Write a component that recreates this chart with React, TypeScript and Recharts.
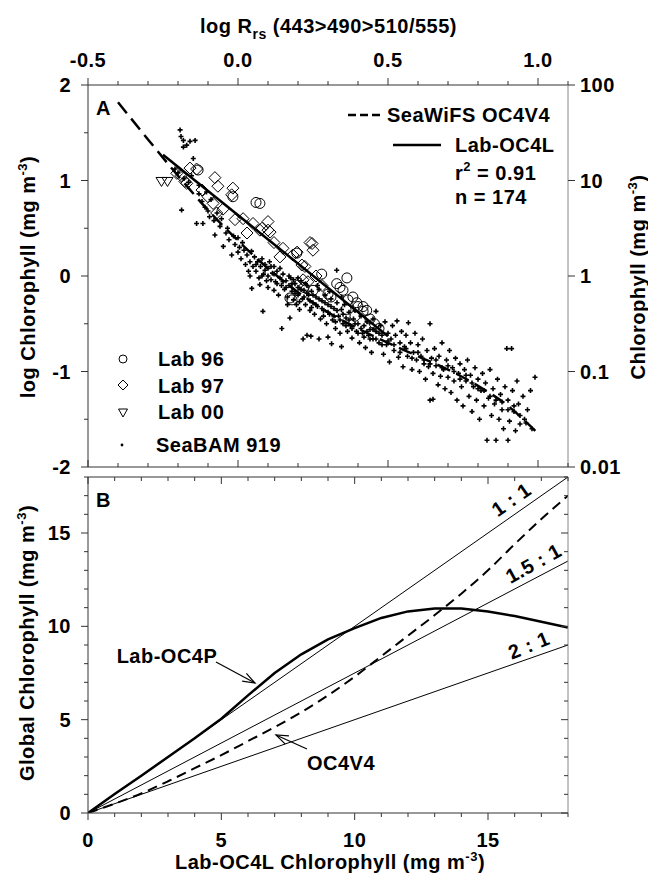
import React from "react";
import { ComposedChart, Scatter, Line, XAxis, YAxis } from "recharts";

// ---- panel A data: [log Rrs, log Chl] ----
const seabamPts = [
  [-0.193, 1.53], [-0.19, 1.46], [-0.182, 1.42], [-0.171, 1.37], [-0.16, 1.41], [-0.143, 1.42], [-0.182, 1.35],
  [-0.149, 1.23], [-0.188, 0.69], [-0.2, 1.08], [-0.21, 1.12], [-0.18, 1.02], [-0.165, 0.98], [-0.155, 1.05],
  [-0.138, 0.55], [-0.117, 0.55], [-0.13, 0.86], [-0.12, 0.78], [-0.11, 0.72], [-0.1, 0.68], [-0.095, 0.62],
  [-0.09, 0.8], [-0.08, 0.58], [-0.077, 0.43], [-0.07, 0.66], [-0.06, 0.52], [-0.055, 0.6], [-0.13, 0.95], [-0.105, 0.88],
  [-0.049, 0.31], [-0.04, 0.45], [-0.035, 0.5], [-0.03, 0.38], [-0.021, 0.22], [-0.015, 0.42], [-0.01, 0.33], [0.0, 0.25],
  [0.0, 0.4], [0.005, 0.3], [0.01, 0.18], [0.015, 0.35], [0.02, 0.27], [0.025, 0.12], [0.03, 0.22], [0.035, 0.05],
  [0.04, 0.15], [0.04, 0.0], [0.045, 0.26], [0.046, -0.13], [0.05, 0.1],
  [0.055, 0.2], [0.06, 0.05], [0.065, 0.15], [0.07, -0.02], [0.073, -0.09], [0.075, 0.1], [0.08, 0.18], [0.083, -0.37],
  [0.085, 0.02], [0.09, 0.12], [0.095, -0.05], [0.1, 0.08], [0.1, -0.12], [0.105, 0.15], [0.11, -0.04], [0.115, 0.03],
  [0.12, 0.1], [0.12, -0.15], [0.125, -0.06], [0.13, 0.05], [0.135, -0.2], [0.14, -0.02], [0.145, -0.1], [0.146, -0.55], [0.15, 0.02],
  [0.155, -0.14], [0.16, -0.05], [0.165, -0.22], [0.17, -0.1], [0.173, -0.44], [0.175, -0.02], [0.18, -0.16], [0.185, -0.25],
  [0.19, -0.08], [0.195, -0.3], [0.2, -0.12], [0.2, -0.2], [0.205, -0.35], [0.21, -0.05], [0.215, -0.24], [0.217, -0.66],
  [0.22, -0.15], [0.225, -0.3], [0.23, -0.62], [0.23, -0.1], [0.235, -0.2], [0.24, -0.36], [0.243, -0.63], [0.245, -0.16], [0.25, -0.28],
  [0.255, -0.4], [0.26, -0.22], [0.265, -0.32], [0.27, -0.66], [0.27, -0.14], [0.275, -0.45], [0.28, -0.26], [0.285, -0.36],
  [0.29, -0.2], [0.295, -0.5], [0.3, -0.3], [0.3, -0.64], [0.305, -0.4], [0.31, -0.24], [0.312, -0.71], [0.315, -0.46],
  [0.32, -0.34], [0.325, -0.55], [0.33, -0.28], [0.329, 0.06], [0.335, -0.42], [0.34, -0.6], [0.345, -0.74], [0.345, -0.35], [0.35, -0.5],
  [0.355, -0.3], [0.36, -0.44], [0.365, -0.58], [0.37, -0.38], [0.375, -0.52], [0.38, -0.65], [0.385, -0.45], [0.39, -0.36],
  [0.395, -0.58], [0.4, -0.5], [0.405, -0.7], [0.41, -0.42], [0.415, -0.6], [0.42, -0.52], [0.425, -0.75], [0.43, -0.48],
  [0.435, -0.62], [0.44, -0.56], [0.445, -0.8], [0.45, -0.45], [0.45, -0.66],
  [0.46, -0.37], [0.46, -0.58], [0.47, -0.7], [0.475, -0.52], [0.48, -0.62], [0.485, -0.82], [0.49, -0.48], [0.495, -0.72],
  [0.5, -0.6], [0.505, -0.9], [0.51, -0.66], [0.515, -0.52], [0.52, -0.78], [0.525, -0.62], [0.53, -0.47], [0.535, -0.85],
  [0.54, -0.7], [0.545, -0.58], [0.55, -0.95],
  [0.555, -0.74], [0.56, -0.62], [0.565, -0.84], [0.568, -0.49], [0.575, -0.7], [0.58, -0.98], [0.585, -0.8], [0.59, -0.6],
  [0.595, -0.88], [0.6, -0.72], [0.605, -1.0], [0.61, -0.84], [0.615, -0.66], [0.62, -0.92], [0.625, -1.08], [0.63, -0.78],
  [0.635, -0.95], [0.64, -0.5], [0.64, -1.3], [0.645, -0.86], [0.65, -1.29], [0.65, -1.02],
  [0.655, -0.76], [0.66, -0.94], [0.667, -1.14], [0.67, -0.84], [0.675, -1.05], [0.68, -0.7], [0.685, -0.98], [0.69, -1.18],
  [0.695, -0.88], [0.7, -1.06], [0.705, -0.78], [0.71, -1.22], [0.715, -0.96], [0.72, -1.1], [0.725, -0.86], [0.73, -1.3],
  [0.735, -1.02], [0.74, -0.92], [0.745, -1.16], [0.75, -1.36],
  [0.755, -0.98], [0.76, -1.1], [0.765, -0.88], [0.77, -1.26], [0.775, -1.04], [0.78, -1.42], [0.785, -1.16], [0.79, -0.96],
  [0.795, -1.3], [0.8, -1.08], [0.805, -1.5], [0.81, -1.2], [0.815, -1.02], [0.82, -1.36], [0.825, -1.12], [0.83, -1.72],
  [0.835, -1.28], [0.84, -0.98], [0.845, -1.46], [0.85, -1.18],
  [0.855, -1.34], [0.86, -1.72], [0.865, -1.08], [0.87, -1.5], [0.875, -1.24], [0.88, -1.4], [0.885, -1.6], [0.89, -1.16],
  [0.896, -0.76], [0.9, -1.72], [0.9, -1.3], [0.905, -1.52], [0.912, -0.76], [0.915, -1.2], [0.92, -1.42], [0.925, -1.62],
  [0.93, -1.1], [0.935, -1.34], [0.94, -1.55], [0.95, -1.26], [0.955, -1.5], [0.965, -1.4], [0.975, -1.2], [0.99, -1.06],
  // dense band along the curve
  [0.06, 0.12], [0.08, 0.0], [0.09, 0.06], [0.1, 0.0], [0.11, 0.1], [0.12, 0.02], [0.13, -0.08], [0.14, 0.08], [0.15, -0.06],
  [0.16, -0.12], [0.17, 0.0], [0.18, -0.08], [0.19, -0.18], [0.2, -0.02], [0.21, -0.14], [0.22, -0.22], [0.23, -0.18],
  [0.24, -0.26], [0.25, -0.2], [0.26, -0.3], [0.27, -0.24], [0.28, -0.34], [0.29, -0.28], [0.3, -0.38], [0.31, -0.32],
  [0.32, -0.42], [0.33, -0.36], [0.34, -0.46], [0.35, -0.4], [0.36, -0.52], [0.37, -0.46], [0.38, -0.55], [0.39, -0.5],
  [0.4, -0.6], [0.41, -0.55], [0.42, -0.64], [0.43, -0.58], [0.44, -0.66], [0.45, -0.56], [0.46, -0.66], [0.47, -0.6],
  [0.48, -0.72], [0.5, -0.68], [0.52, -0.72], [0.54, -0.8], [0.56, -0.76], [0.58, -0.86], [0.6, -0.8], [0.62, -0.88],
  [0.64, -0.92], [0.66, -0.88], [0.68, -0.96], [0.7, -0.94], [0.72, -1.0], [0.74, -1.08], [0.76, -1.04], [0.78, -1.12],
  [0.8, -1.18], [0.82, -1.2], [0.84, -1.26], [0.86, -1.3], [0.88, -1.32], [0.9, -1.4], [0.92, -1.36], [0.94, -1.46],
  [0.96, -1.54], [0.98, -1.6], [0.165, -0.3], [0.205, -0.27], [0.245, -0.33], [0.285, -0.42], [0.325, -0.48],
  [0.185, -0.04], [0.225, -0.08], [0.265, -0.1], [0.305, -0.16], [0.345, -0.22],
];

const lab96Pts = [
  [-0.133, 1.11], [-0.017, 0.83], [0.06, 0.77], [0.073, 0.76], [0.196, 0.24], [0.173, -0.23], [0.18, -0.25], [0.279, 0.02],
  [0.363, -0.02], [0.383, -0.22], [0.35, -0.15], [0.417, -0.37], [0.396, -0.28], [0.329, -0.08], [0.3, -0.19], [0.367, -0.25],
  [0.417, -0.32], [0.429, -0.36], [0.4, -0.32], [0.34, -0.12], [0.31, -0.22], [0.44, -0.45], [0.455, -0.5], [0.47, -0.55],
  [0.39, -0.42], [0.36, -0.35], [0.25, -0.15], [0.22, -0.12],
];

const lab97Pts = [
  [-0.204, 1.075], [-0.16, 1.13], [-0.138, 1.12], [-0.177, 0.99], [-0.19, 1.05], [-0.171, 0.97], [-0.1, 0.83], [-0.083, 0.76],
  [-0.077, 1.03], [-0.067, 0.94], [-0.071, 0.66], [-0.017, 0.92], [-0.021, 0.85], [-0.01, 0.59], [0.017, 0.6], [0.05, 0.55],
  [0.08, 0.5], [0.1, 0.57], [0.1, 0.48], [0.073, 0.48], [0.107, 0.46], [0.14, 0.2], [0.15, 0.29], [0.183, 0.22], [0.197, 0.25],
  [0.24, 0.35], [0.247, 0.34], [0.25, 0.27], [0.213, 0.115], [0.223, 0.1], [0.217, -0.04], [0.233, -0.06], [0.197, -0.1],
  [-0.12, 0.9], [-0.05, 0.7], [0.03, 0.45], [0.12, 0.35], [0.26, 0.0], [0.28, -0.1],
];

const lab00Pts = [[-0.255, 0.99], [-0.235, 0.99]];

const oc4v4R = [-0.4, -0.3, -0.2, -0.1, 0, 0.1, 0.2, 0.3, 0.4, 0.5, 0.6, 0.7, 0.8, 0.9, 1.0];
const oc4v4Chl = [1.82, 1.43, 1.05, 0.69, 0.37, 0.08, -0.17, -0.38, -0.55, -0.7, -0.84, -0.98, -1.15, -1.36, -1.65];
const oc4lR = [-0.25, 0.5];
const oc4lChl = [1.27, -0.63];

// ---- panel B data ----
const labChl = [0, 1, 2, 3, 4, 5, 6, 7, 8, 9, 10, 11, 12, 13, 14, 15, 16, 17, 18];
const globalOc4v4 = [0, 0.5, 1.05, 1.7, 2.4, 3.1, 3.85, 4.6, 5.4, 6.3, 7.3, 8.4, 9.5, 10.6, 11.75, 13.0, 14.4, 15.75, 17.0];
const globalOc4p = [0, 1.02, 2.0, 3.0, 4.0, 5.05, 6.3, 7.5, 8.5, 9.3, 9.9, 10.45, 10.8, 10.95, 10.95, 10.8, 10.55, 10.25, 9.93];
const refX = [0, 18];
const ref1to1 = [0, 18];
const ref15to1 = [0, 13.5];
const ref2to1 = [0, 9];

const rsTicks = [-0.5, -0.4, -0.3, -0.2, -0.1, 0, 0.1, 0.2, 0.3, 0.4, 0.5, 0.6, 0.7, 0.8, 0.9, 1.0, 1.1];
const logChlTicks = [-2, -1.5, -1, -0.5, 0, 0.5, 1, 1.5, 2];
const chlTicks = [-2, -1, 0, 1, 2];
const chlLabels = ["0.01", "0.1", "1", "10", "100"];
const bTicks = [0, 1, 2, 3, 4, 5, 6, 7, 8, 9, 10, 11, 12, 13, 14, 15, 16, 17, 18];

const FONT = "'Liberation Sans', Arial, sans-serif";
const AXIS = "#333";
const txt = { fontFamily: FONT, fontWeight: 700, fontSize: 20, fill: "#000", letterSpacing: 0.5 } as const;

const pairs = (xs: number[], ys: number[]) => xs.map((x, i) => ({ x, y: ys[i] }));
const toXY = (pts: number[][]) => pts.map(([x, y]) => ({ x, y }));
const near = (v: number, step: number) => Math.abs(v / step - Math.round(v / step)) < 1e-6;

type Side = "top" | "bottom" | "left" | "right";

function makeTick(side: Side, dir: "in" | "out", majorStep: number, label?: (v: number) => string | null) {
  return (props: any) => {
    const { x, y, payload } = props;
    const v = payload.value as number;
    const len = near(v, majorStep) ? 7 : 4;
    const s = dir === "out" ? 1 : -1;
    let x2 = x, y2 = y;
    if (side === "top") y2 = y - s * len;
    if (side === "bottom") y2 = y + s * len;
    if (side === "left") x2 = x - s * len;
    if (side === "right") x2 = x + s * len;
    const text = label ? label(v) : null;
    let t = null;
    if (text != null) {
      if (side === "top") t = <text x={x} y={y - 18} textAnchor="middle" style={txt}>{text}</text>;
      if (side === "bottom") t = <text x={x} y={y + 34} textAnchor="middle" style={txt}>{text}</text>;
      if (side === "left") t = <text x={x - 17} y={y + 7} textAnchor="end" style={txt}>{text}</text>;
      if (side === "right") t = <text x={x + 12} y={y + 7} textAnchor="start" style={txt}>{text}</text>;
    }
    return (
      <g>
        <line x1={x} y1={y} x2={x2} y2={y2} stroke={AXIS} strokeWidth={1} />
        {t}
      </g>
    );
  };
}

const CrossShape = (p: any) => (
  <path d={`M${p.cx - 2.5},${p.cy}H${p.cx + 2.5}M${p.cx},${p.cy - 2.5}V${p.cy + 2.5}`} stroke="#000" strokeWidth={1.6} />
);
const CircleShape = (p: any) => <circle cx={p.cx} cy={p.cy} r={5} fill="none" stroke="#000" strokeWidth={1} />;
const DiamondShape = (p: any) => (
  <path d={`M${p.cx},${p.cy - 6}L${p.cx + 6},${p.cy}L${p.cx},${p.cy + 6}L${p.cx - 6},${p.cy}Z`} fill="none" stroke="#000" strokeWidth={1} />
);
const TriangleShape = (p: any) => (
  <path d={`M${p.cx - 5.5},${p.cy - 4}L${p.cx + 5.5},${p.cy - 4}L${p.cx},${p.cy + 5}Z`} fill="none" stroke="#000" strokeWidth={1} />
);

const axisCommon = { tickLine: false, tickSize: 0, tickMargin: 0, interval: 0 as const, allowDataOverflow: true };

function PanelA() {
  return (
    <ComposedChart width={648} height={480} margin={{ top: 0, right: 0, bottom: 0, left: 0 }}>
      <XAxis xAxisId="t" orientation="top" type="number" dataKey="x" domain={[-0.5, 1.1]} ticks={rsTicks} height={85}
        axisLine={{ stroke: AXIS }} tick={makeTick("top", "out", 0.5, (v) => (near(v, 0.5) ? v.toFixed(1) : null))} {...axisCommon} />
      <XAxis xAxisId="b" orientation="bottom" type="number" dataKey="x" domain={[-0.5, 1.1]} ticks={rsTicks} height={13}
        axisLine={{ stroke: AXIS }} tick={makeTick("bottom", "in", 0.5)} {...axisCommon} />
      <YAxis yAxisId="l" orientation="left" type="number" dataKey="y" domain={[-2, 2]} ticks={logChlTicks} width={88}
        axisLine={{ stroke: AXIS }} tick={makeTick("left", "out", 1, (v) => (near(v, 1) ? String(v) : null))} {...axisCommon} />
      <YAxis yAxisId="r" orientation="right" type="number" dataKey="y" domain={[-2, 2]} ticks={chlTicks} width={80}
        axisLine={{ stroke: "#888" }} tick={makeTick("right", "out", 1, (v) => chlLabels[chlTicks.indexOf(v)])} {...axisCommon} />
      <Scatter xAxisId="t" yAxisId="l" data={toXY(seabamPts)} shape={CrossShape} isAnimationActive={false} />
      <Scatter xAxisId="t" yAxisId="l" data={toXY(lab96Pts)} shape={CircleShape} isAnimationActive={false} />
      <Scatter xAxisId="t" yAxisId="l" data={toXY(lab97Pts)} shape={DiamondShape} isAnimationActive={false} />
      <Scatter xAxisId="t" yAxisId="l" data={toXY(lab00Pts)} shape={TriangleShape} isAnimationActive={false} />
      <Line xAxisId="b" yAxisId="r" data={pairs(oc4v4R, oc4v4Chl)} dataKey="y" type="monotone" stroke="#000"
        strokeWidth={2.5} strokeDasharray="14 7" dot={false} isAnimationActive={false} />
      <Line xAxisId="b" yAxisId="l" data={pairs(oc4lR, oc4lChl)} dataKey="y" type="linear" stroke="#000"
        strokeWidth={2.5} dot={false} isAnimationActive={false} />
    </ComposedChart>
  );
}

function PanelB() {
  return (
    <ComposedChart width={648} height={411} margin={{ top: 0, right: 0, bottom: 0, left: 0 }}>
      <XAxis xAxisId="t" orientation="top" type="number" dataKey="x" domain={[0, 18]} ticks={bTicks} height={7}
        axisLine={{ stroke: AXIS }} tick={makeTick("top", "in", 5)} {...axisCommon} />
      <XAxis xAxisId="b" orientation="bottom" type="number" dataKey="x" domain={[0, 18]} ticks={bTicks} height={68}
        axisLine={{ stroke: AXIS }} tick={makeTick("bottom", "out", 5, (v) => (near(v, 5) ? String(v) : null))} {...axisCommon} />
      <YAxis yAxisId="l" orientation="left" type="number" dataKey="y" domain={[0, 18]} ticks={bTicks} width={88}
        axisLine={{ stroke: AXIS }} tick={makeTick("left", "out", 5, (v) => (near(v, 5) ? String(v) : null))} {...axisCommon} />
      <YAxis yAxisId="r" orientation="right" type="number" dataKey="y" domain={[0, 18]} ticks={bTicks} width={80}
        axisLine={{ stroke: "#888" }} tick={makeTick("right", "in", 5)} {...axisCommon} />
      <Line xAxisId="t" yAxisId="r" data={pairs(refX, ref1to1)} dataKey="y" stroke="#000" strokeWidth={1} dot={false} isAnimationActive={false} />
      <Line xAxisId="b" yAxisId="l" data={pairs(refX, ref15to1)} dataKey="y" stroke="#000" strokeWidth={1} dot={false} isAnimationActive={false} />
      <Line xAxisId="b" yAxisId="l" data={pairs(refX, ref2to1)} dataKey="y" stroke="#000" strokeWidth={1} dot={false} isAnimationActive={false} />
      <Line xAxisId="b" yAxisId="l" data={pairs(labChl, globalOc4v4)} dataKey="y" type="monotone" stroke="#000"
        strokeWidth={2} strokeDasharray="10 6" dot={false} isAnimationActive={false} />
      <Line xAxisId="b" yAxisId="l" data={pairs(labChl, globalOc4p)} dataKey="y" type="linear" stroke="#000"
        strokeWidth={2.5} dot={false} isAnimationActive={false} />
    </ComposedChart>
  );
}

const Arrow = ({ x1, y1, x2, y2 }: { x1: number; y1: number; x2: number; y2: number }) => {
  const a = Math.atan2(y2 - y1, x2 - x1);
  const h = 13;
  const p1 = [x2 - h * Math.cos(a - 0.35), y2 - h * Math.sin(a - 0.35)];
  const p2 = [x2 - h * Math.cos(a + 0.35), y2 - h * Math.sin(a + 0.35)];
  return (
    <g stroke="#000" strokeWidth={1.2} fill="none">
      <line x1={x1} y1={y1} x2={x2} y2={y2} />
      <polyline points={`${p1[0]},${p1[1]} ${x2},${y2} ${p2[0]},${p2[1]}`} />
    </g>
  );
};

function Overlay() {
  return (
    <svg width={648} height={881} style={{ position: "absolute", left: 0, top: 0, pointerEvents: "none" }}>
      {/* titles */}
      <text x={200} y={33} style={txt}>
        log R<tspan fontSize={14} dy={6}>rs</tspan><tspan dy={-6}> (443&gt;490&gt;510/555)</tspan>
      </text>
      <text transform="translate(35,277) rotate(-90)" textAnchor="middle" style={txt}>
        log Chlorophyll (mg m<tspan fontSize={13} dy={-8}>-3</tspan><tspan dy={8}>)</tspan>
      </text>
      <text transform="translate(645,277) rotate(-90)" textAnchor="middle" style={txt}>
        Chlorophyll (mg m<tspan fontSize={13} dy={-8}>-3</tspan><tspan dy={8}>)</tspan>
      </text>
      <text transform="translate(34,643) rotate(-90)" textAnchor="middle" style={txt}>
        Global Chlorophyll (mg m<tspan fontSize={13} dy={-8}>-3</tspan><tspan dy={8}>)</tspan>
      </text>
      <text x={330} y={869} textAnchor="middle" style={txt}>
        Lab-OC4L Chlorophyll (mg m<tspan fontSize={13} dy={-8}>-3</tspan><tspan dy={8}>)</tspan>
      </text>

      {/* panel A annotations */}
      <text x={96} y={115} style={txt}>A</text>
      <line x1={348} y1={115} x2={383} y2={115} stroke="#000" strokeWidth={2.5} strokeDasharray="8 4" />
      <text x={387} y={122} style={txt}>SeaWiFS OC4V4</text>
      <line x1={393} y1={145} x2={441} y2={145} stroke="#000" strokeWidth={2.5} />
      <text x={455} y={152} style={txt}>Lab-OC4L</text>
      <text x={455} y={180} style={txt}>
        r<tspan fontSize={13} dy={-9}>2</tspan><tspan dy={9}> = 0.91</tspan>
      </text>
      <text x={455} y={204} style={txt}>n = 174</text>

      <circle cx={123} cy={359} r={4} fill="none" stroke="#000" strokeWidth={1} />
      <path d="M123,380L128,385L123,390L118,385Z" fill="none" stroke="#000" strokeWidth={1} />
      <path d="M118.5,409L127.5,409L123,417Z" fill="none" stroke="#000" strokeWidth={1} />
      <circle cx={122} cy={445} r={1.4} fill="#000" />
      <text x={158} y={366} style={txt}>Lab 96</text>
      <text x={158} y={393} style={txt}>Lab 97</text>
      <text x={158} y={419} style={txt}>Lab 00</text>
      <text x={156} y={452} style={txt}>SeaBAM 919</text>

      {/* panel B annotations */}
      <text x={96} y={507} style={txt}>B</text>
      <text transform="translate(513,502) rotate(-35)" textAnchor="middle" y={4} style={txt}>1 : 1</text>
      <text transform="translate(535,566) rotate(-29)" textAnchor="middle" y={4} style={txt}>1.5 : 1</text>
      <text transform="translate(530,648) rotate(-22)" textAnchor="middle" y={4} style={txt}>2 : 1</text>
      <text x={167} y={663} textAnchor="middle" style={txt}>Lab-OC4P</text>
      <Arrow x1={216} y1={662} x2={255} y2={683} />
      <text x={341} y={770} textAnchor="middle" style={txt}>OC4V4</text>
      <Arrow x1={307} y1={749} x2={276} y2={735} />
    </svg>
  );
}

export default function App() {
  return (
    <div style={{ position: "absolute", left: 0, top: 0, width: 648, height: 881, background: "#fff" }}>
      <div style={{ position: "absolute", left: 0, top: 0 }}>
        <PanelA />
      </div>
      <div style={{ position: "absolute", left: 0, top: 470 }}>
        <PanelB />
      </div>
      <Overlay />
    </div>
  );
}
